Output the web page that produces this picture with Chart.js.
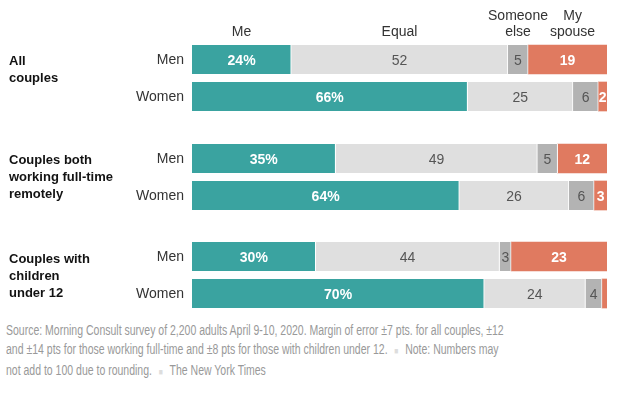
<!DOCTYPE html>
<html>
<head>
<meta charset="utf-8">
<script src="https://cdn.jsdelivr.net/npm/chart.js@4.4.1/dist/chart.umd.min.js"></script>
<style>
    body { margin: 0; background: #fff; font-family: "Liberation Sans", Arial, sans-serif; }
    #wrap { position: relative; width: 625px; height: 397px; overflow: hidden; }
    .box { position: absolute; left: 0; width: 625px; }
    .group { position: absolute; left: 9px; font-weight: bold; font-size: 13px; line-height: 17px; color: #121212; }
    #source { position: absolute; left: 6px; top: 321px; font-size: 14px; line-height: 19.2px; color: #999; white-space: nowrap; transform: scaleX(0.75); transform-origin: left top; }
    .sep { color: #ddd; font-size: 9px; padding: 0 9px; }
</style>
</head>
<body>
<div id="wrap">
    <div class="box" style="top:0px;height:115px"><canvas id="chart1"></canvas></div>
    <div class="box" style="top:140px;height:74px"><canvas id="chart2"></canvas></div>
    <div class="box" style="top:238px;height:74px"><canvas id="chart3"></canvas></div>

    <div class="group" style="top:52px">All<br>couples</div>
    <div class="group" style="top:151px">Couples both<br>working full-time<br>remotely</div>
    <div class="group" style="top:250px">Couples with<br>children<br>under 12</div>

    <div id="source">Source: Morning Consult survey of 2,200 adults April 9-10, 2020. Margin of error ±7 pts. for all couples, ±12<br>and ±14 pts for those working full-time and ±8 pts for those with children under 12.<span class="sep">■</span>Note: Numbers may<br>not add to 100 due to rounding.<span class="sep">■</span>The New York Times</div>
</div>

<script>
let rows = ["Men", "Women"];
let answers = ["Me", "Equal", "Someone else", "My spouse"];
let headers = [["Me"], ["Equal"], ["Someone", "else"], ["My", "spouse"]];

// share of answers, [men, women]
let allMe = [23.9, 66.4];
let allEqual = [52.2, 25.4];
let allElse = [4.9, 6.1];
let allSpouse = [19.0, 2.1];

let remoteMe = [34.6, 64.4];
let remoteEqual = [48.6, 26.4];
let remoteElse = [4.9, 6.1];
let remoteSpouse = [11.9, 3.1];

let kidsMe = [29.8, 70.4];
let kidsEqual = [44.3, 24.4];
let kidsElse = [2.8, 4.0];
let kidsSpouse = [23.1, 1.2];

let colors = ["#3aa3a0", "#dfdfdf", "#b3b3b3", "#e07a60"];
let textColors = ["#fff", "#555", "#555", "#fff"];

let segmentLabels = {
    id: "segmentLabels",
    afterDatasetsDraw(chart) {
        let ctx = chart.ctx;
        ctx.save();
        ctx.textAlign = "center";
        ctx.textBaseline = "middle";
        chart.data.datasets.forEach((ds, i) => {
            let meta = chart.getDatasetMeta(i);
            meta.data.forEach((bar, j) => {
                let v = ds.data[j];
                if (v < 1.5) return;
                let txt = Math.round(v) + (i === 0 ? "%" : "");
                let p = bar.getCenterPoint();
                ctx.fillStyle = textColors[i];
                ctx.font = (i === 0 || i === 3 ? "bold " : "") + "14px 'Liberation Sans', Arial, sans-serif";
                ctx.fillText(txt, p.x, p.y + 1.5);
            });
        });
        ctx.restore();
    }
};

let headerLabels = {
    id: "headerLabels",
    afterDraw(chart) {
        let ctx = chart.ctx;
        ctx.save();
        ctx.textAlign = "center";
        ctx.textBaseline = "middle";
        ctx.fillStyle = "#333";
        ctx.font = "14px 'Liberation Sans', Arial, sans-serif";
        headers.forEach((lines, i) => {
            let bar = chart.getDatasetMeta(i).data[0];
            let x = bar.getCenterPoint().x;
            if (i === 3) x += 5;
            lines.forEach((line, k) => {
                let y = 32 - (lines.length - 1 - k) * 16;
                ctx.fillText(line, x, y);
            });
        });
        ctx.restore();
    }
};

function createChart(id, series, topPad, withHeader) {
    let ctx = document.getElementById(id).getContext("2d");
    return new Chart(ctx, {
        type: "bar",
        data: {
            labels: rows,
            datasets: series.map((values, i) => ({
                label: answers[i],
                data: values,
                backgroundColor: colors[i],
                borderColor: "#fff",
                borderWidth: { top: 0, bottom: 0, left: 0, right: i < 3 ? 1 : 0 },
                borderSkipped: false,
                barThickness: 29,
            })),
        },
        options: {
            indexAxis: "y",
            responsive: true,
            maintainAspectRatio: false,
            animation: false,
            layout: { padding: { top: topPad, right: 18, bottom: 0, left: 0 } },
            scales: {
                x: { stacked: true, min: 0, max: 100, display: false },
                y: {
                    stacked: true,
                    grid: { display: false, drawTicks: false },
                    border: { display: false },
                    ticks: {
                        color: "#333",
                        padding: 8,
                        labelOffset: 1,
                        font: { family: "'Liberation Sans', Arial, sans-serif", size: 14 },
                    },
                    afterFit: (scale) => {
                        scale.width = 192;
                        scale.paddingTop = 0;
                        scale.paddingBottom = 0;
                    },
                },
            },
            plugins: {
                legend: { display: false },
                tooltip: { enabled: false },
            },
        },
        plugins: withHeader ? [segmentLabels, headerLabels] : [segmentLabels],
    });
}

createChart("chart1", [allMe, allEqual, allElse, allSpouse], 41, true);
createChart("chart2", [remoteMe, remoteEqual, remoteElse, remoteSpouse], 0, false);
createChart("chart3", [kidsMe, kidsEqual, kidsElse, kidsSpouse], 0, false);
</script>
</body>
</html>
